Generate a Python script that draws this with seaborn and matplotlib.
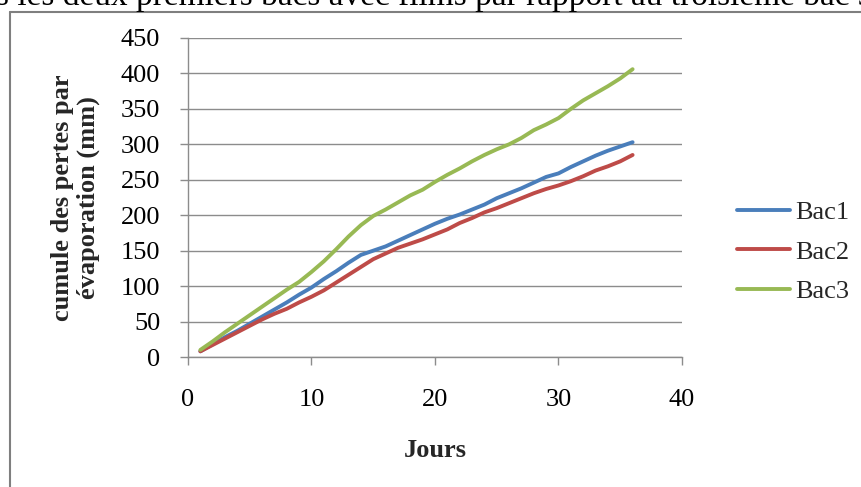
import numpy as np
import pandas as pd
import matplotlib
matplotlib.use("Agg")
import matplotlib.pyplot as plt
from matplotlib.lines import Line2D
import seaborn as sns

jours = list(range(1, 37))
bac1 = [8, 18, 28, 37, 47, 57, 67, 77, 88, 98, 110, 121, 133, 144, 150, 156, 164, 172,
        180, 188, 195, 201, 208, 215, 224, 231, 238, 246, 254, 259, 268, 276, 284, 291, 297, 303]
bac2 = [8, 17, 26, 35, 44, 53, 61, 68, 77, 85, 94, 105, 116, 127, 138, 146, 154, 160,
        166, 173, 180, 189, 196, 204, 210, 217, 224, 231, 237, 242, 248, 255, 263, 269, 276, 285]
bac3 = [10, 22, 35, 47, 59, 71, 83, 95, 106, 120, 135, 152, 170, 186, 199, 208, 218, 228,
        236, 247, 257, 266, 276, 285, 293, 300, 309, 320, 328, 337, 350, 362, 372, 382, 393, 406]
series_names = ["Bac1", "Bac2", "Bac3"]
x_ticks = [0, 10, 20, 30, 40]
y_ticks = [0, 50, 100, 150, 200, 250, 300, 350, 400, 450]

df = pd.DataFrame({
    "Jours": jours * 3,
    "val": bac1 + bac2 + bac3,
    "serie": sum([[n] * len(jours) for n in series_names], []),
})

sns.set_theme(style="white")
plt.rcParams["font.family"] = ["Liberation Serif", "DejaVu Serif"]

fig = plt.figure(figsize=(8.62, 4.87), dpi=100)
ax = fig.add_axes([188/862, 1-357/487, (682-188)/862, (357-38)/487])

palette = {"Bac1": "#4A7EBB", "Bac2": "#BE4B48", "Bac3": "#98B954"}
sns.lineplot(data=df, x="Jours", y="val", hue="serie", palette=palette, lw=2.8, ax=ax,
             legend=False)

ax.set_xlim(0, 40)
ax.set_ylim(0, 450)
ax.set_xticks(x_ticks)
ax.set_yticks(y_ticks)
ax.yaxis.grid(True, color="#8c8c8c", lw=1.0)
ax.set_axisbelow(True)
for s in ["top", "right"]:
    ax.spines[s].set_visible(False)
for s in ["left", "bottom"]:
    ax.spines[s].set_color("#8c8c8c")
    ax.spines[s].set_linewidth(1.0)
ax.tick_params(axis="both", which="major", length=6, width=1.0, color="#8c8c8c",
               direction="out", labelsize=19, labelcolor="black", left=True, bottom=True)
ax.tick_params(axis="y", pad=14)
ax.tick_params(axis="x", pad=17)

ax.set_xlabel("Jours", fontsize=19, fontweight="bold", labelpad=20)
ax.set_ylabel("cumule des pertes par\névaporation (mm)", fontsize=19, fontweight="bold",
              labelpad=15, linespacing=1.15)

handles = [Line2D([], [], color=palette[n], lw=2.8) for n in series_names]
fig.legend(handles, series_names, loc="center left", bbox_to_anchor=(737/862, 1-252/487),
           frameon=False, fontsize=19, handlelength=2.0, handletextpad=0.2,
           labelspacing=0.6, borderpad=0, borderaxespad=0)

# outer chart frame (partially visible)
fig.add_artist(Line2D([10/862, 10/862], [0, 1-12/487], color="#7f7f7f", lw=1.5,
                      transform=fig.transFigure))
fig.add_artist(Line2D([10/862, 1], [1-12/487, 1-12/487], color="#7f7f7f", lw=1.5,
                      transform=fig.transFigure))

# cut-off text line above the chart
fig.text(-4/862, 1-4.5/487, "s les deux premiers bacs avec films par rapport au troisième bac san",
         fontsize=24, va="baseline", ha="left", color="black")

fig.savefig("out.png", dpi=100)
